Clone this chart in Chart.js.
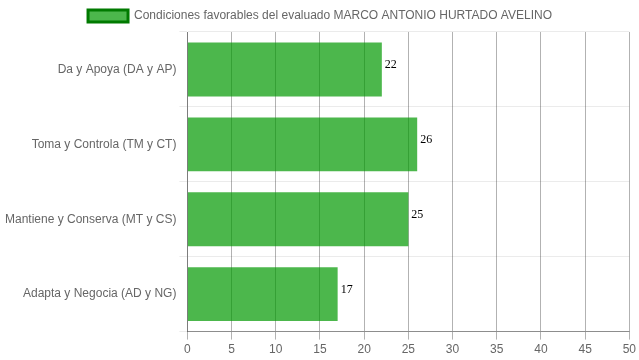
<!DOCTYPE html>
<html>
<head>
<meta charset="utf-8">
<script src="https://cdn.jsdelivr.net/npm/chart.js@4"></script>
<style>
  html, body { margin: 0; padding: 0; background: #fff; }
  #wrap { width: 639px; height: 360px; }
</style>
</head>
<body>
<div id="wrap"><canvas id="chart"></canvas></div>
<script>
// datos del gráfico
const categorias = ['Da y Apoya (DA y AP)', 'Toma y Controla (TM y CT)', 'Mantiene y Conserva (MT y CS)', 'Adapta y Negocia (AD y NG)'];
const valores = [22, 26, 25, 17];
const serieNombre = 'Condiciones favorables del evaluado MARCO ANTONIO HURTADO AVELINO';
const ejeMin = 0;
const ejeMax = 50;
const ejePaso = 5;

Chart.defaults.color = '#666';
Chart.defaults.font.family = '"Liberation Sans", Arial, sans-serif';
Chart.defaults.font.size = 12;

// etiquetas con el valor al final de cada barra
const etiquetasValor = {
    id: 'etiquetasValor',
    afterDatasetsDraw(chart) {
        const ctx = chart.ctx;
        ctx.save();
        ctx.font = '12px "Liberation Serif", "Times New Roman", serif';
        ctx.fillStyle = '#000';
        ctx.textAlign = 'left';
        ctx.textBaseline = 'alphabetic';
        chart.getDatasetMeta(0).data.forEach(function(bar, i) {
            ctx.fillText(valores[i], bar.x + 3, bar.y - 1);
        });
        ctx.restore();
    }
};

new Chart(document.getElementById('chart'), {
    type: 'bar',
    data: {
        labels: categorias,
        datasets: [{
            label: serieNombre,
            data: valores,
            backgroundColor: 'rgba(0, 153, 0, 0.7)',
            borderColor: '#007a00',
            borderWidth: 0
        }]
    },
    options: {
        indexAxis: 'y',
        responsive: true,
        maintainAspectRatio: false,
        animation: false,
        layout: { padding: { left: 2, right: 1 } },
        plugins: {
            legend: {
                labels: {
                    color: '#666',
                    boxWidth: 40,
                    boxHeight: 12,
                    generateLabels: function(chart) {
                        return [{
                            text: serieNombre,
                            fillStyle: 'rgba(0, 153, 0, 0.7)',
                            strokeStyle: '#007a00',
                            fontColor: '#666',
                            lineWidth: 3,
                            datasetIndex: 0
                        }];
                    }
                }
            },
            tooltip: { enabled: false }
        },
        scales: {
            x: {
                min: ejeMin,
                max: ejeMax,
                ticks: { stepSize: ejePaso },
                grid: { color: 'rgba(0,0,0,0.3)' },
                border: { color: 'rgba(0,0,0,0.4)' }
            },
            y: {
                grid: { color: 'rgba(0,0,0,0.08)' },
                border: { color: 'rgba(0,0,0,0.3)' }
            }
        }
    },
    plugins: [etiquetasValor]
});
</script>
</body>
</html>
